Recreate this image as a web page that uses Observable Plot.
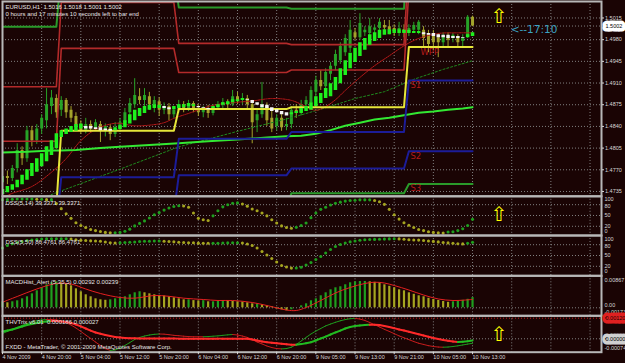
<!DOCTYPE html>
<html><head><meta charset="utf-8">
<script src="https://cdn.jsdelivr.net/npm/d3@7"></script>
<script src="https://cdn.jsdelivr.net/npm/@observablehq/plot@0.6"></script>
<style>
html,body{margin:0;padding:0;background:#1a0404;}
#chart{position:relative;width:625px;height:363px;background:#1a0404;overflow:hidden;}
#chart svg{position:absolute;left:0;top:0;}
</style></head><body><div id="chart"></div>
<script>
// ---------- time axis ----------
const timeTickBars = [0,8,16,24,32,40,48,56,64,72,80,88,96];
const timeLabels = ["4 Nov 2009","4 Nov 20:00","5 Nov 04:00","5 Nov 12:00","5 Nov 20:00","6 Nov 04:00","6 Nov 12:00","6 Nov 20:00","9 Nov 05:00","9 Nov 13:00","9 Nov 21:00","10 Nov 05:00","10 Nov 13:00"];
const gridBars = [8,16,24,32,40,48,56,64,72,80,88,96,104,112,120];
const priceTicks = [1.5015,1.4980,1.4945,1.4910,1.4875,1.4840,1.4805,1.4770,1.4735];
const bidPrice = 1.5002;

// ---------- EURUSD H1 candles ----------
const openP = [1.4749,1.4759,1.4756,1.4772,1.4801,1.4788,1.4833,1.4817,1.4836,1.4849,1.4872,1.4885,
1.4866,1.4882,1.4866,1.4856,1.4843,1.4833,1.4843,1.4836,1.4843,1.4833,1.4838,1.4827,1.4836,1.4846,1.4862,1.4875,1.4888,1.4882,1.4888,1.4875,1.4880,1.4866,1.4872,1.4859,
1.4866,1.4875,1.4869,1.4877,1.4869,1.4862,1.4867,1.4861,1.4870,1.4875,1.4878,1.4875,1.4888,1.4882,1.4885,1.4875,1.4849,1.4859,1.4872,1.4853,1.4840,1.4853,1.4840,
1.4843,1.4866,1.4862,1.4875,1.4878,1.4895,1.4914,1.4904,1.4924,1.4937,1.4946,1.4959,1.4966,1.4991,1.4983,1.4991,1.4990,1.4995,1.4998,1.5003,1.5001,1.4998,1.4995,1.4996,
1.4991,1.4995,1.4995,1.4995,1.4988,1.4988,1.4983,1.4975,1.4985,1.4982,1.4985,1.4977,1.4985,1.5016];
const highP = [1.4765,1.4768,1.4777,1.4812,1.4807,1.4840,1.4840,1.4843,1.4859,1.4901,1.4898,1.4891,
1.4888,1.4885,1.4872,1.4862,1.4849,1.4853,1.4849,1.4851,1.4848,1.4844,1.4843,1.4846,1.4853,1.4869,1.4885,1.4917,1.4901,1.4901,1.4895,1.4888,1.4886,1.4878,1.4877,1.4872,
1.4882,1.4880,1.4882,1.4880,1.4875,1.4872,1.4874,1.4875,1.4880,1.4885,1.4883,1.4898,1.4895,1.4893,1.4890,1.4882,1.4869,1.4911,1.4878,1.4866,1.4859,1.4859,1.4853,
1.4872,1.4875,1.4882,1.4888,1.4904,1.4921,1.4930,1.4933,1.4943,1.4963,1.4975,1.4988,1.5011,1.4998,1.5022,1.5001,1.5014,1.5004,1.5014,1.5011,1.5011,1.5004,1.5008,1.5004,
1.5004,1.5008,1.5011,1.5001,1.4995,1.4995,1.4990,1.4991,1.4991,1.4990,1.4988,1.4988,1.5019,1.5018];
const lowP = [1.4743,1.4746,1.4751,1.4765,1.4777,1.4782,1.4807,1.4811,1.4827,1.4836,1.4859,1.4853,
1.4856,1.4853,1.4846,1.4833,1.4827,1.4828,1.4830,1.4832,1.4814,1.4823,1.4817,1.4822,1.4830,1.4841,1.4856,1.4869,1.4875,1.4872,1.4866,1.4862,1.4856,1.4859,1.4849,1.4853,
1.4861,1.4862,1.4864,1.4862,1.4856,1.4854,1.4853,1.4857,1.4866,1.4869,1.4867,1.4872,1.4875,1.4875,1.4866,1.4812,1.4830,1.4853,1.4840,1.4830,1.4833,1.4832,1.4833,
1.4836,1.4853,1.4857,1.4869,1.4874,1.4882,1.4898,1.4898,1.4914,1.4930,1.4940,1.4953,1.4959,1.4979,1.4979,1.4985,1.4985,1.4990,1.4995,1.4995,1.4988,1.4985,1.4985,1.4983,
1.4985,1.4990,1.4988,1.4967,1.4959,1.4963,1.4951,1.4969,1.4966,1.4975,1.4966,1.4969,1.4982,1.5001];
const closeP = [1.4759,1.4756,1.4772,1.4801,1.4788,1.4833,1.4817,1.4836,1.4853,1.4875,1.4886,1.4862,
1.4882,1.4862,1.4853,1.4840,1.4833,1.4843,1.4836,1.4846,1.4833,1.4840,1.4827,1.4836,1.4846,1.4862,1.4877,1.4890,1.4882,1.4890,1.4875,1.4882,1.4866,1.4872,1.4859,1.4866,
1.4875,1.4869,1.4877,1.4869,1.4862,1.4867,1.4861,1.4870,1.4875,1.4878,1.4875,1.4888,1.4882,1.4885,1.4875,1.4846,1.4859,1.4875,1.4849,1.4836,1.4853,1.4838,1.4843,
1.4866,1.4861,1.4875,1.4882,1.4898,1.4914,1.4904,1.4927,1.4937,1.4956,1.4969,1.4982,1.4995,1.4983,1.5006,1.4995,1.5001,1.4999,1.5008,1.4999,1.4995,1.4993,1.4998,1.4991,
1.4998,1.5003,1.5008,1.4982,1.4972,1.4975,1.4975,1.4985,1.4979,1.4987,1.4975,1.4982,1.5016,1.5002];

// ---------- smoothed (Heiken-Ashi style) bars ----------
const haOpen = [1.4730,1.4733,1.4737,1.4741,1.4746,1.4753,1.4759,1.4766,1.4775,1.4783,1.4793,1.4804,
1.4822,1.4827,1.4830,1.4832,1.4836,1.4840,1.4840,1.4838,1.4838,1.4836,1.4835,1.4833,1.4835,1.4838,1.4844,1.4849,1.4856,1.4861,1.4866,1.4869,1.4869,1.4872,1.4870,1.4867,
1.4869,1.4870,1.4872,1.4872,1.4872,1.4870,1.4869,1.4869,1.4870,1.4874,1.4875,1.4878,1.4880,1.4882,1.4883,1.4882,1.4878,1.4875,1.4874,1.4870,1.4867,1.4864,1.4862,
1.4859,1.4861,1.4861,1.4864,1.4866,1.4872,1.4877,1.4885,1.4888,1.4898,1.4909,1.4922,1.4933,1.4943,1.4953,1.4963,1.4971,1.4977,1.4982,1.4987,1.4988,1.4990,1.4990,1.4990,
1.4990,1.4990,1.4990,1.4991,1.4990,1.4990,1.4988,1.4987,1.4987,1.4985,1.4985,1.4983,1.4983,1.4985];
const haClose = [1.4738,1.4743,1.4746,1.4753,1.4761,1.4770,1.4780,1.4788,1.4796,1.4807,1.4817,1.4828,
1.4833,1.4836,1.4840,1.4843,1.4844,1.4836,1.4836,1.4835,1.4833,1.4833,1.4832,1.4838,1.4841,1.4849,1.4859,1.4866,1.4869,1.4872,1.4874,1.4875,1.4874,1.4869,1.4867,1.4872,
1.4875,1.4875,1.4877,1.4875,1.4870,1.4869,1.4867,1.4872,1.4875,1.4878,1.4880,1.4883,1.4883,1.4885,1.4882,1.4877,1.4874,1.4870,1.4869,1.4864,1.4862,1.4859,1.4857,
1.4862,1.4864,1.4869,1.4872,1.4878,1.4888,1.4893,1.4901,1.4909,1.4919,1.4933,1.4946,1.4958,1.4966,1.4975,1.4982,1.4988,1.4991,1.4995,1.4996,1.4996,1.4996,1.4996,1.4995,
1.4995,1.4993,1.4993,1.4988,1.4987,1.4985,1.4983,1.4983,1.4982,1.4982,1.4982,1.4982,1.4988,1.4991];

// ---------- daily pivots (one value per day) ----------
const dayStart = [0,12,36,59,83];
const pivotP  = [1.4712,1.4833,1.4868,1.4871,1.4968];
const pivotR1 = [1.4816,1.4966,1.4927,1.4931,1.5060];
const pivotR2 = [1.4904,1.5040,1.4974,1.4972,1.5110];
const pivotR3 = [1.5001,1.5090,1.5032,1.5030,1.5160];
const pivotS1 = [1.4680,1.4758,1.4820,1.4831,1.4914];
const pivotS2 = [1.4640,1.4700,1.4761,1.4772,1.4800];
const pivotS3 = [1.4600,1.4660,1.4710,1.4732,1.4747];

// ---------- moving averages (read at these bars) ----------
const maSlowBars = [0,5,10,12,15,20,24,30,36,42,48,54,58,61,64,67,70,73,76,79,82,85,88,91,94,96];
const maSlow = [1.4798,1.4799,1.4801,1.4801,1.4802,1.4805,1.4807,1.4810,1.4813,1.4816,1.4819,1.4822,1.4824,1.4825,1.4828,1.4834,1.4841,1.4846,1.4851,1.4854,1.4858,1.4862,1.4864,1.4867,1.4869,1.4871];
const maDotBars = [0,12,24,36,48,59,66,72,78,84,90,96];
const maDot = [1.4700,1.4736,1.4771,1.4807,1.4832,1.4854,1.4870,1.4885,1.4896,1.4916,1.4932,1.4946];
const maRedBars = [0,2,6,10,13,16,19,23,27,30,33,35,38,43,48,51,55,59,62,64,66,68,70,73,76,79,82,85,89,93,96];
const maRed = [1.4725,1.4732,1.4743,1.4766,1.4788,1.4817,1.4835,1.4845,1.4841,1.4842,1.4846,1.4853,1.4861,1.4874,1.4879,1.4881,1.4885,1.4882,1.4872,1.4866,1.4872,1.4883,1.4898,1.4919,1.4938,1.4954,1.4970,1.4982,1.4990,1.4991,1.4991];

// ---------- DSS oscillators ----------
const dss14 = [94,94,95,96,96,96,96,95,95,94, 94,83,69,55,42,30,22,16.7,11,8, 5.5,3,2,2,3,6,12,21,28,35, 43,52,58,65,71,75,77,76.5,73,57,
42,38,36,49,63,74,80,84,85,82, 76,68,63,57,49,38,29,21,16.5,14.7, 17,22,29,44,57,67,73,79,84,87, 90,91.5,92.5,93.5,93.5,93.5,91.5,88,81,67,
52,40,30,23,16.5,11,8,5,3,2, 1,4,5,8,13,22,39.3];
const dss50 = [71,78,82.5,86,89,91.7,93,94.4,95.8,96.4, 96.4,96.4,96.4,96.4,95.8,93.6,92.2,91.7,90.8,90.3, 89.7,87.5,85.3,84.7,85.3,86.1,87,87.5,88.9,89.7,
89.7,90.3,90.5,89.7,88.9,88,87,86.1,85.5,85.3, 84.4,84.2,83.9,83.9,84.2,84.7,85,85.3,85.5,84.7, 81.9,77.8,70.8,61,51.4,41.7,32,22.2,18,15,
15.3,17.2,23.6,30.6,38.9,47.2,57,66.7,75,80.6, 84.7,88,90.3,92.5,93.9,94.4,94.7,95,95.6,96.1, 96.4,96.1,95.3,93.9,93.3,92.8,91.9,90.5,89.2,87.8,
86.1,85,83.9,82.8,82.2,83.9,86.5];
const dssLevels = [80,50,20];

// ---------- MACD histogram + signal ----------
const macdHist = [0.00172,0.00143,0.00172,0.00200,0.00257,0.00315,0.00400,0.00486,0.00572,0.00658,
0.00715,0.00744,0.00715,0.00686,0.00629,0.00543,0.00458,0.00372,0.00315,0.00257,
0.00229,0.00215,0.00229,0.00257,0.00286,0.00315,0.00372,0.00429,0.00458,0.00429,
0.00400,0.00372,0.00352,0.00337,0.00315,0.00286,0.00257,0.00229,0.00229,0.00206,
0.00197,0.00203,0.00172,0.00172,0.00194,0.00203,0.00200,0.00183,0.00174,0.00166,
0.00143,0.00114,0.00114,0.00086,0.00057,0.00029,-0.00029,-0.00057,-0.00086,-0.00057,
0,0.00057,0.00114,0.00200,0.00257,0.00343,0.00429,0.00515,0.00572,0.00601,
0.00658,0.00715,0.00744,0.00752,0.00752,0.00744,0.00729,0.00715,0.00658,0.00615,
0.00572,0.00515,0.00486,0.00429,0.00386,0.00343,0.00315,0.00272,0.00237,0.00209,
0.00180,0.00157,0.00172,0.00186,0.00215,0.00243,0.00292];
const macdSigBars = [0,3,7,11,14,17,20,24,27,31,34,37,41,44,47,51,54,58,60,62,65,68,71,74,76,78,80,83,86,89,92,94,96];
const macdSig = [0.0016,0.00323,0.00538,0.00695,0.0068,0.00538,0.00409,0.00295,0.00275,0.00352,0.00329,0.00275,0.00237,0.00209,0.00209,0.00152,0.00066,-0.00063,-0.00077,0.00009,0.00209,0.00423,0.00581,0.00695,0.00732,0.00709,0.00638,0.00509,0.00366,0.00252,0.00209,0.00217,0.00239];

// ---------- THV Trix ----------
const thvMain = [0.00043,0.00048,0.00054,0.00063,0.00072,0.0008,0.00086,0.00092,0.00098,0.00101,
0.00103,0.00103,0.00101,0.00098,0.00092,0.00083,0.00072,0.0006,0.00048,0.00037,
0.00029,0.00022,0.00016,0.00011,0.00008,0.00005,0.00003,0.00003,0.00002,0.00002,
0.00002,0.00002,0.00002,0.00002,0.00002,0.00002,0.00001,0.00001,0.00001,0.00001,
0.00001,0.00001,0.00001,0.00001,0.00001,0,0,0,0,0,
0,-0.00004,-0.0001,-0.00016,-0.0002,-0.00023,-0.00026,-0.00029,-0.00032,-0.00034,
-0.00034,-0.00031,-0.00026,-0.0002,-0.0001,0.00002,0.00013,0.00025,0.00037,0.00048,
0.0006,0.00069,0.00075,0.00078,0.0008,0.00082,0.00082,0.0008,0.00075,0.00069,
0.00062,0.00054,0.00048,0.00041,0.00034,0.00027,0.00019,0.00012,0.00005,-0.00001,
-0.00007,-0.00012,-0.00016,-0.00019,-0.00017,-0.00014,-0.0001];
const thvSignal = [0.00031,0.00043,0.00054,0.00066,0.00078,0.00089,0.00098,0.00105,0.0011,0.00112,
0.00112,0.0011,0.00104,0.00095,0.0008,0.00063,0.00043,0.00022,0.00002,-0.00019,
-0.00039,-0.00057,-0.00068,-0.00065,-0.00054,-0.00039,-0.00022,-0.00004,0.00008,0.00016,
0.00022,0.00026,0.00028,0.00027,0.00024,0.0002,0.00018,0.00015,0.00013,0.00012,
0.00012,0.00012,0.00013,0.00015,0.00017,0.0002,0.00023,0.00025,0.00022,0.00016,
0.00008,-0.00004,-0.00019,-0.0003,-0.00042,-0.00051,-0.00057,-0.00059,-0.00057,-0.00049,
-0.00033,-0.00013,0.00008,0.00028,0.00045,0.0006,0.00075,0.00086,0.00096,0.00105,
0.00112,0.00117,0.00119,0.00115,0.00107,0.00095,0.00082,0.00069,0.00055,0.00043,
0.0003,0.00017,0.00006,-0.00005,-0.00016,-0.00026,-0.00033,-0.0004,-0.00045,-0.00048,
-0.00049,-0.00048,-0.00045,-0.00041,-0.00036,-0.00031,-0.00026];
const thvLevel = 0.0012;

// ---------- annotations ----------
const arrowBar = 101.4;
const arrowAt = {main: 1.5017, dss: 52.8, thv: 0.00022};
const countdown = {bar: 103.8, price: 1.4996, text: "<--17:10"};
const signalArrow = {bar: 48, value: 0.00025};

// ================= drawing =================
const W = 625, H = 363, RIGHT = 601;
const GRID = {stroke: "#808080", strokeOpacity: 1, strokeDasharray: "1,2", strokeWidth: 1};
const FRAME = {stroke: "#b8b8b8", strokeWidth: 2};
const INFO = {frameAnchor: "top-left", textAnchor: "start", lineAnchor: "middle", fill: "#e6e6e6", fontSize: 6, text: d => d};
const AX = {anchor: "right", tickSize: 2, tickPadding: 1.5, fontSize: 5.5, color: "#d8d8d8", label: null};
const N = openP.length;
const dayOf = i => dayStart.filter(s => s <= i).length - 1;

function panel(top, bottom, yDomain, marks) {
  return Plot.plot({
    width: W, height: H,
    marginLeft: 2, marginRight: W - RIGHT, marginTop: top, marginBottom: H - bottom,
    x: {domain: [0, 122.34], axis: null},
    y: {domain: yDomain, axis: null, label: null},
    color: {type: "identity"},
    style: {background: "transparent", color: "#d8d8d8", fontFamily: "'Liberation Sans', Arial, sans-serif", fontSize: "6px", overflow: "visible"},
    marks
  });
}

const rows = openP.map((o, i) => ({i, o, h: highP[i], l: lowP[i], c: closeP[i], ho: haOpen[i], hc: haClose[i],
  P: pivotP[dayOf(i)], R1: pivotR1[dayOf(i)], R2: pivotR2[dayOf(i)], R3: pivotR3[dayOf(i)],
  S1: pivotS1[dayOf(i)], S2: pivotS2[dayOf(i)], S3: pivotS3[dayOf(i)]}));
const candleColor = d => d.c >= d.o ? "#27a327" : "#a3a32b";
const series = (bars, vals) => bars.map((b, k) => ({i: b, v: vals[k]}));
const last = rows[N - 1];
const lastDay = dayStart.length - 1;
const lastDayRow = rows.filter(r => r.i === dayStart[lastDay]);
const ARROW = {text: () => "\u21E7", fill: "#ffff00", fontFamily: "DejaVu Sans", fontSize: 20, lineAnchor: "middle"};
const PIVLAB = {textAnchor: "start", lineAnchor: "middle", fill: "#b41a1a", fontFamily: "DejaVu Sans", fontSize: 8.5};

const pivotLine = (key, stroke, w = 2) => Plot.line(rows, {x: "i", y: key, stroke, strokeWidth: w, clip: true});

const main = panel(1, 195.8, [1.47272, 1.50416], [
  Plot.gridX(gridBars, GRID),
  Plot.gridY(priceTicks, GRID),
  Plot.ruleY([bidPrice], GRID),
  Plot.ruleX(rows, {x: "i", y1: "l", y2: "h", stroke: candleColor, strokeWidth: 1, clip: true}),
  Plot.ruleX(rows, {x: "i", y1: "o", y2: "c", stroke: candleColor, strokeWidth: 3, clip: true}),
  Plot.line(series(maDotBars, maDot), {x: "i", y: "v", stroke: "#1f8a1f", strokeWidth: 1, strokeDasharray: "2,2", clip: true}),
  Plot.line(series(maRedBars, maRed), {x: "i", y: "v", stroke: "#b81a1a", strokeWidth: 1, strokeDasharray: "1.5,1", curve: "catmull-rom", clip: true}),
  Plot.line(series(maSlowBars, maSlow), {x: "i", y: "v", stroke: "#33e833", strokeWidth: 2, clip: true}),
  pivotLine("R3", "#2a9a2a"), pivotLine("R2", "#b32a2a", 1.6), pivotLine("R1", "#b32a2a", 1.6),
  pivotLine("S3", "#2a9a2a"), pivotLine("S2", "#1c1c98"), pivotLine("S1", "#1c1c98"),
  pivotLine("P", "#e6e63a"),
  Plot.ruleX(rows, {x: "i", y1: "ho", y2: "hc", stroke: d => d.hc >= d.ho ? "#1ef01e" : "#f4f4f4", strokeWidth: 3.5, clip: true}),
  Plot.text(lastDayRow, {...PIVLAB, x: "i", y: "P", text: () => "WPP", dx: 11.5, dy: 5.5}),
  Plot.text(lastDayRow, {...PIVLAB, x: "i", y: "S1", text: () => "S1", dx: 1.5, dy: 4.5}),
  Plot.text(lastDayRow, {...PIVLAB, x: "i", y: "S2", text: () => "S2", dx: 1.5, dy: 5}),
  Plot.text(lastDayRow, {...PIVLAB, x: "i", y: "S3", text: () => "S3", dx: 1.5, dy: 4.5}),
  Plot.text([countdown], {x: "bar", y: "price", text: "text", textAnchor: "start", lineAnchor: "middle", fill: "#3ba3c3", fontFamily: "DejaVu Sans", fontSize: 10.5}),
  Plot.text([arrowAt.main], {...ARROW, x: () => arrowBar, y: d => d}),
  Plot.text([`EURUSD,H1  ${last.o.toFixed(4)} ${last.h.toFixed(4)} ${last.l.toFixed(4)} ${last.c.toFixed(4)}`], {...INFO, dx: 3, dy: 5.5}),
  Plot.text(["0 hours and 17 minutes 10 seconds left to bar end"], {...INFO, dx: 3, dy: 12.5}),
  Plot.frame(FRAME),
  Plot.axisY(priceTicks, {...AX, tickFormat: d => d.toFixed(4)}),
  Plot.text([bidPrice], {y: d => d, frameAnchor: "right", dx: 4, text: d => d.toFixed(4), textAnchor: "start", lineAnchor: "middle", fill: "#000", stroke: "#fff", strokeWidth: 7, fontSize: 5.5})
]);

function dssPanel(vals, top, bottom, dom, label, extra = []) {
  const pts = vals.map((v, i) => ({i, v, up: i === 0 || v >= vals[i - 1]}));
  return panel(top, bottom, dom, [
    Plot.gridX(gridBars, GRID),
    Plot.gridY(dssLevels, GRID),
    Plot.dot(pts, {x: "i", y: "v", r: 1.55, fill: d => d.up ? "#1f9f1f" : "#a5a520", stroke: null}),
    Plot.text([label], {...INFO, dx: 3, dy: 7}),
    ...extra,
    Plot.frame(FRAME),
    Plot.axisY([80], {...AX, tickSize: 0, tickPadding: 3, dy: 1.2}),
    Plot.axisY([50, 20], {...AX, tickSize: 0, tickPadding: 3}),
    Plot.axisY([100], {...AX, tickSize: 0, tickPadding: 3, dy: 2}),
    Plot.axisY([0], {...AX, tickSize: 0, tickPadding: 3, dy: -2.3})
  ]);
}
const dss1 = dssPanel(dss14, 195.8, 235, [-5.6, 103.3], "DSS(5,14) 39.3371 39.3371",
  [Plot.text([arrowAt.dss], {...ARROW, x: () => arrowBar, y: d => d})]);
const dss2 = dssPanel(dss50, 235, 275.3, [-6.4, 105.6], "DSS(5,50) 86.4761 86.4761");

const macdRows = macdHist.map((v, i) => ({i, v, up: i === 0 || v >= macdHist[i - 1]}));
const macd = panel(275.3, 315.3, [-0.002288, 0.009152], [
  Plot.gridX(gridBars, GRID),
  Plot.ruleY([0], GRID),
  Plot.ruleX(macdRows, {x: "i", y1: 0, y2: "v", stroke: d => d.up ? "#1f9f1f" : "#a5a520", strokeWidth: 2.2}),
  Plot.line(series(macdSigBars, macdSig), {x: "i", y: "v", stroke: "#e42020", strokeWidth: 1, curve: "catmull-rom"}),
  Plot.text([`MACDHist_Alert (5,35,5) ${macdHist[N - 1].toFixed(5)} ${macdSig[macdSig.length - 1].toFixed(5)}`], {...INFO, dx: 3, dy: 6.5}),
  Plot.frame(FRAME),
  Plot.axisY([0.00867], {...AX, tickSize: 0, tickPadding: 3, dy: 3, tickFormat: d => d.toFixed(5)}),
  Plot.axisY([0], {...AX, tickSize: 0, tickPadding: 3, dy: -2.5, tickFormat: () => "0.00"}),
  Plot.axisY([-0.00173], {...AX, tickSize: 0, tickPadding: 3, dy: -1.8, tickFormat: d => d.toFixed(5)})
]);

const segs = vals => vals.slice(1).map((v, k) => ({i0: k, v0: vals[k], i1: k + 1, v1: v, up: v > vals[k]}));
const thv = panel(315.3, 351.7, [-0.000781, 0.00134], [
  Plot.gridX(gridBars, GRID),
  Plot.ruleY([0], GRID),
  Plot.ruleY([thvLevel], {...GRID, stroke: "#c02020"}),
  Plot.link(segs(thvSignal), {x1: "i0", y1: "v0", x2: "i1", y2: "v1", stroke: d => d.up ? "#1e9a1e" : "#c41c1c", strokeWidth: 1, strokeLinecap: "round"}),
  Plot.link(segs(thvMain), {x1: "i0", y1: "v0", x2: "i1", y2: "v1", stroke: d => d.up ? "#22bb22" : "#ff2a2a", strokeWidth: 2, strokeLinecap: "round"}),
  Plot.text([signalArrow], {x: "bar", y: "value", text: () => "\u2193", fill: "#ff2a2a", fontSize: 7, lineAnchor: "middle"}),
  Plot.text([arrowAt.thv], {...ARROW, x: () => arrowBar, y: d => d}),
  Plot.text(["THVTrix v6.01  0.000186 0.000027"], {...INFO, dx: 3, dy: 6.5}),
  Plot.text(["FXDD - MetaTrader, \u00A9 2001-2009 MetaQuotes Software Corp."], {...INFO, frameAnchor: "bottom-left", dx: 3, dy: -5}),
  Plot.frame(FRAME),
  Plot.text([thvLevel], {y: d => d, frameAnchor: "right", dx: 4, text: () => "0.00120", textAnchor: "start", lineAnchor: "middle", fill: "#200000", stroke: "#e02020", strokeWidth: 7, fontSize: 5.5}),
  Plot.text([0], {y: d => d, frameAnchor: "right", dx: 4, text: () => "0.00000", textAnchor: "start", lineAnchor: "middle", fill: "#000", stroke: "#d0d0d0", strokeWidth: 7, fontSize: 5.5}),
  Plot.axisY([-0.00074], {...AX, tickSize: 0, tickPadding: 3, dy: -3.5, tickFormat: d => d.toFixed(5)}),
  Plot.axisX(timeTickBars, {anchor: "bottom", tickSize: 2.5, tickPadding: 0.5, textAnchor: "start", fontSize: 5.5, color: "#d8d8d8", label: null,
    tickFormat: d => timeLabels[timeTickBars.indexOf(d)]})
]);

const root = document.getElementById("chart");
[main, dss1, dss2, macd, thv].forEach(s => root.appendChild(s));
</script>
</body></html>
